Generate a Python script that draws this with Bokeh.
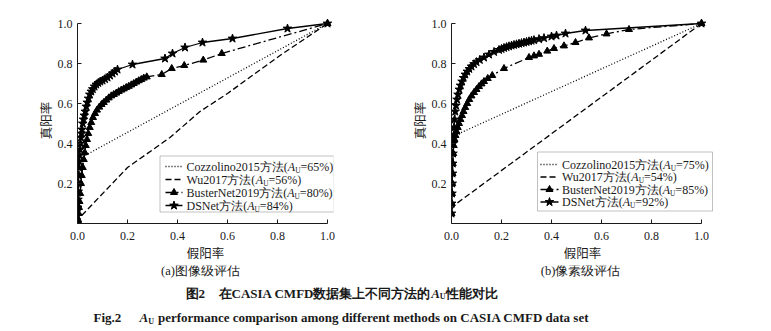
from bokeh.plotting import figure
from bokeh.models import Range1d, FixedTicker, Label, BoxAnnotation, PrintfTickFormatter
from bokeh.layouts import column, row
from bokeh.embed import file_html
from bokeh.resources import INLINE

# ---------------- data ----------------
# (a) image-level evaluation: (false positive rate, true positive rate)
a_cozzolino = [(0.0, 0.0), (0.005, 0.1), (0.01, 0.2), (0.02, 0.3), (0.03, 0.34), (1.0, 1.0)]
a_wu = [(0.0, 0.0), (0.017, 0.04), (0.2, 0.28), (0.37, 0.43), (0.49, 0.56), (0.6, 0.65), (0.81, 0.84), (1.0, 1.0)]
a_busternet = [(0.0, 0.0), (0.002, 0.02), (0.004, 0.05), (0.006, 0.08), (0.008, 0.11), (0.011, 0.15),
               (0.014, 0.2), (0.017, 0.24), (0.021, 0.28), (0.025, 0.32), (0.029, 0.355), (0.033, 0.39),
               (0.038, 0.42), (0.043, 0.45), (0.049, 0.48), (0.055, 0.505), (0.062, 0.53), (0.07, 0.55),
               (0.078, 0.567), (0.087, 0.582), (0.096, 0.595), (0.105, 0.605), (0.115, 0.617), (0.125, 0.628),
               (0.135, 0.638), (0.145, 0.645), (0.155, 0.652), (0.165, 0.66), (0.175, 0.667), (0.185, 0.673),
               (0.195, 0.68), (0.205, 0.686), (0.215, 0.693), (0.225, 0.7), (0.235, 0.707), (0.245, 0.714),
               (0.255, 0.72), (0.265, 0.727), (0.277, 0.733), (0.337, 0.745), (0.377, 0.775), (0.427, 0.79),
               (0.503, 0.817), (0.577, 0.85), (1.0, 1.0)]
a_dsnet = [(0.0, 0.0), (0.0, 0.04), (0.001, 0.08), (0.002, 0.12), (0.003, 0.16), (0.004, 0.2), (0.005, 0.24),
           (0.006, 0.28), (0.007, 0.31), (0.008, 0.34), (0.01, 0.37), (0.012, 0.4), (0.014, 0.43),
           (0.016, 0.45), (0.018, 0.47), (0.021, 0.5), (0.024, 0.52), (0.027, 0.54), (0.031, 0.56),
           (0.035, 0.585), (0.039, 0.605), (0.044, 0.625), (0.049, 0.645), (0.055, 0.66), (0.061, 0.672),
           (0.068, 0.685), (0.075, 0.695), (0.083, 0.703), (0.091, 0.71), (0.1, 0.715), (0.11, 0.722),
           (0.12, 0.73), (0.13, 0.74), (0.14, 0.75), (0.15, 0.76), (0.16, 0.77), (0.22, 0.795),
           (0.35, 0.825), (0.38, 0.85), (0.43, 0.88), (0.5, 0.905), (0.62, 0.925), (0.84, 0.975), (1.0, 1.0)]

# (b) pixel-level evaluation
b_cozzolino = [(0.0, 0.05), (0.002, 0.15), (0.004, 0.25), (0.006, 0.35), (0.01, 0.42), (0.036, 0.453), (1.0, 1.0)]
b_wu = [(0.0, 0.07), (0.015, 0.095), (1.0, 1.0)]
b_busternet = [(0.0, 0.05), (0.001, 0.1), (0.002, 0.15), (0.003, 0.2), (0.004, 0.25), (0.005, 0.3),
               (0.007, 0.35), (0.009, 0.39), (0.012, 0.42), (0.016, 0.44), (0.02, 0.46), (0.025, 0.48),
               (0.03, 0.5), (0.036, 0.52), (0.042, 0.54), (0.048, 0.56), (0.055, 0.58), (0.063, 0.6),
               (0.071, 0.62), (0.08, 0.638), (0.09, 0.655), (0.1, 0.67), (0.11, 0.685), (0.12, 0.698),
               (0.13, 0.71), (0.145, 0.725), (0.163, 0.74), (0.21, 0.775), (0.31, 0.83), (0.33, 0.838),
               (0.35, 0.846), (0.383, 0.862), (0.41, 0.875), (0.45, 0.888), (0.496, 0.905), (0.55, 0.928),
               (0.62, 0.948), (0.71, 0.97), (1.0, 1.0)]
b_dsnet = [(0.0, 0.05), (0.001, 0.1), (0.002, 0.15), (0.003, 0.2), (0.004, 0.25), (0.005, 0.3), (0.006, 0.35),
           (0.007, 0.4), (0.008, 0.44), (0.01, 0.48), (0.012, 0.52), (0.015, 0.56), (0.018, 0.59),
           (0.022, 0.62), (0.026, 0.645), (0.031, 0.67), (0.036, 0.69), (0.042, 0.71), (0.048, 0.728),
           (0.055, 0.745), (0.063, 0.76), (0.071, 0.773), (0.08, 0.785), (0.09, 0.797), (0.1, 0.807),
           (0.113, 0.818), (0.13, 0.83), (0.15, 0.845), (0.17, 0.858), (0.19, 0.868), (0.2, 0.873),
           (0.21, 0.878), (0.22, 0.882), (0.23, 0.886), (0.24, 0.89), (0.25, 0.893), (0.26, 0.896),
           (0.27, 0.899), (0.28, 0.902), (0.29, 0.905), (0.3, 0.908), (0.31, 0.911), (0.32, 0.914),
           (0.33, 0.917), (0.35, 0.922), (0.37, 0.927), (0.4, 0.935), (0.42, 0.94), (0.456, 0.95),
           (0.536, 0.965), (1.0, 1.0)]

method_names = ["Cozzolino2015方法", "Wu2017方法", "BusterNet2019方法", "DSNet方法"]
a_auc = ["65%", "56%", "80%", "84%"]
b_auc = ["75%", "54%", "85%", "92%"]
x_ticks = [0.0, 0.2, 0.4, 0.6, 0.8, 1.0]
y_ticks = [0.2, 0.4, 0.6, 0.8, 1.0]
x_title = "假阳率"
y_title = "真阳率"
a_sub = "(a)图像级评估"
b_sub = "(b)像素级评估"

# ---------------- styling / layout ----------------
SERIF = "Liberation Serif"
CJK = "Noto Sans CJK SC"
INK = "#1a1a1a"
STYLES = [("1 2", None, 0), ("6 3", None, 0), ("8 3 2 3", "triangle", 7), ("solid", "star", 9)]

REG = {' ': 250, '(': 333, ')': 333, '=': 564, '%': 833, '.': 250, 'A': 722, 'B': 667, 'C': 667, 'D': 722,
       'F': 556, 'I': 333, 'M': 889, 'N': 722, 'S': 556, 'U': 722, 'W': 944, 'a': 444, 'b': 500, 'c': 444,
       'd': 500, 'e': 444, 'f': 333, 'g': 500, 'h': 500, 'i': 278, 'l': 278, 'm': 778, 'n': 500, 'o': 500,
       'p': 500, 'r': 333, 's': 389, 't': 278, 'u': 500, 'z': 444}
BOLD = {' ': 250, '.': 250, 'A': 722, 'C': 722, 'D': 722, 'F': 611, 'I': 389, 'M': 944, 'S': 556, 'U': 722,
        'a': 500, 'b': 556, 'c': 444, 'd': 556, 'e': 444, 'f': 333, 'g': 500, 'h': 556, 'i': 278, 'l': 278,
        'm': 833, 'n': 556, 'o': 500, 'p': 556, 'r': 444, 's': 389, 't': 333}


def text_width(s, size, table):
    return sum((1000 if ord(c) >= 0x2E80 else table.get(c, 500)) for c in s) * size / 1000.0


def put_text(p, x, y, parts, size, bold=False, off=0.0, color=INK):
    table = BOLD if bold else REG
    for txt, kind in parts:
        if kind == "gap":
            off += float(txt)
            continue
        if kind == "sub":
            fs, yo = size * 0.62, -size * 0.3
            style = "bold" if bold else "normal"
            w = text_width(txt, fs, table)
        elif kind == "it":
            fs, yo = size, 0
            style = "bold italic" if bold else "italic"
            w = (667 if bold else 611) * fs / 1000.0 * len(txt)
        else:
            fs, yo = size, 0
            style = "bold" if bold else "normal"
            w = text_width(txt, fs, table)
        p.add_layout(Label(x=x, y=y, x_offset=off, y_offset=yo, text=txt, text_font=SERIF,
                           text_font_size=f"{fs:.1f}px", text_font_style=style, text_baseline="middle",
                           text_align="left", text_color=color))
        off += w
    return off


PXX = 250.0         # pixels per unit, x
PXY = 200.0         # pixels per unit, y
Y0 = 223            # pixel row of y = 0 (frame bottom)
Y_TOP = 1.03
FIG_H = 265


def make_panel(width, x0, x_end, y_standoff, series, aucs, legend):
    fw = int(round(x_end * PXX))
    fh = int(round(Y_TOP * PXY))
    p = figure(width=width, height=FIG_H, output_backend="svg", toolbar_location=None,
               x_range=Range1d(0, fw / PXX), y_range=Range1d(0, fh / PXY),
               min_border_left=x0, min_border_right=width - x0 - fw,
               min_border_top=Y0 - fh, min_border_bottom=FIG_H - Y0)
    p.outline_line_color = None
    p.grid.visible = False
    p.background_fill_color = "white"
    p.border_fill_color = "white"
    for ax, ticks, standoff in ((p.xaxis, x_ticks, 8), (p.yaxis, y_ticks, 5)):
        ax.bounds = (0, 1)
        ax.ticker = FixedTicker(ticks=ticks)
        ax.formatter = PrintfTickFormatter(format="%.1f")
        ax.major_tick_in = 4
        ax.major_tick_out = 0
        ax.minor_tick_line_color = None
        ax.axis_line_color = INK
        ax.major_tick_line_color = INK
        ax.major_label_text_font = SERIF
        ax.major_label_text_font_size = "12px"
        ax.major_label_text_color = INK
        ax.major_label_standoff = standoff
        ax.axis_label_text_font = CJK
        ax.axis_label_text_font_size = "12.5px"
        ax.axis_label_text_font_style = "normal"
        ax.axis_label_text_color = INK
    p.xaxis.axis_label = x_title
    p.xaxis.axis_label_standoff = 0
    p.yaxis.axis_label = y_title
    p.yaxis.axis_label_standoff = y_standoff

    for data, (dash, marker, msize) in zip(series, STYLES):
        xs_, ys_ = [d[0] for d in data], [d[1] for d in data]
        p.line(xs_, ys_, line_color="black", line_width=1.3, line_dash=dash)
        if marker:
            p.scatter(xs_, ys_, marker=marker, size=msize, fill_color="black", line_color="black")

    def dx(px):
        return (px - x0) / PXX

    def dy(py):
        return (Y0 - py) / PXY

    # legend
    bl, bt, br, bb, rows, s0, s1, tx = legend
    p.add_layout(BoxAnnotation(left=dx(bl), right=dx(br), top=dy(bt), bottom=dy(bb), fill_alpha=0,
                               line_color="#333333", line_width=1, level="overlay"))
    for ry, name, auc, (dash, marker, msize) in zip(rows, method_names, aucs, STYLES):
        p.line([dx(s0), dx(s1)], [dy(ry), dy(ry)], line_color="black", line_width=1.3, line_dash=dash)
        if marker:
            p.scatter([dx((s0 + s1) / 2)], [dy(ry)], marker=marker, size=msize, fill_color="black",
                      line_color="black")
        put_text(p, dx(tx), dy(ry), [(name + "(", "r"), ("A", "it"), ("U", "sub"), ("=" + auc + ")", "r")], 12)
    return p


pa = make_panel(385, 77, 1.025, 0, [a_cozzolino, a_wu, a_busternet, a_dsnet], a_auc,
                (159.5, 155.5, 333.5, 211.5, [166, 179, 192, 205], 165, 182, 186))
pb = make_panel(386, 66, 1.048, 0, [b_cozzolino, b_wu, b_busternet, b_dsnet], b_auc,
                (537 - 385, 151.5, 712 - 385, 210.5, [164, 176.5, 189, 201.5], 540 - 385, 558 - 385, 561.5 - 385))

# caption strip (page pixel coordinates)
pc = figure(width=771, height=331 - FIG_H, output_backend="svg", toolbar_location=None,
            x_range=Range1d(0, 771), y_range=Range1d(331, FIG_H),
            min_border_left=0, min_border_right=0, min_border_top=0, min_border_bottom=0)
pc.axis.visible = False
pc.grid.visible = False
pc.outline_line_color = None
pc.background_fill_color = "white"
pc.border_fill_color = "white"
for cx, txt in ((200, a_sub), (580, b_sub)):
    pc.add_layout(Label(x=cx, y=270.5, text=txt, text_font=SERIF, text_font_size="12.5px", text_align="center",
                        text_baseline="middle", text_color=INK))
put_text(pc, 185, 292.5, [("图2", "r")], 13, bold=True)
put_text(pc, 218, 292.5, [("在CASIA CMFD数据集上不同方法的", "r"), ("A", "it"), ("U", "sub"), ("性能对比", "r")],
         13, bold=True)
put_text(pc, 93, 317, [("Fig.2", "r")], 13, bold=True)
put_text(pc, 139, 317, [("A", "it"), ("U", "sub"), ("4", "gap"),
                        ("performance comparison among different methods on CASIA CMFD data set", "r")],
         13, bold=True)

layout = column(row(pa, pb, spacing=0), pc, spacing=0)
open("out.html", "w").write(file_html(layout, INLINE))
